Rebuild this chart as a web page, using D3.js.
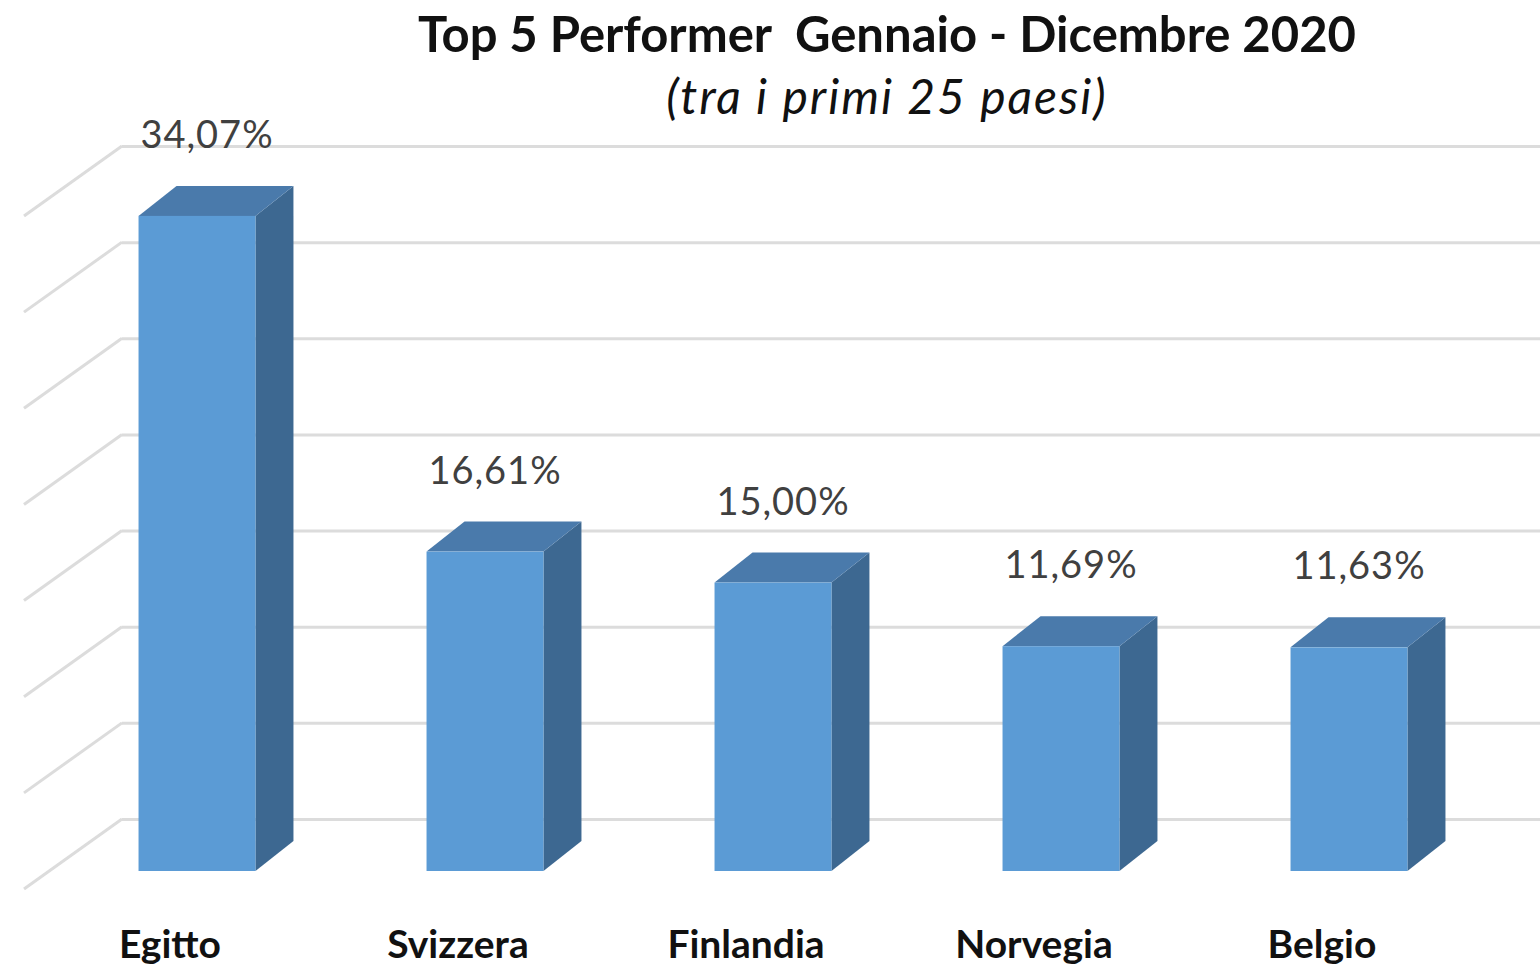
<!DOCTYPE html>
<html>
<head>
<meta charset="utf-8">
<script src="https://cdn.jsdelivr.net/npm/d3@7"></script>
<style>
  body { margin: 0; background: #fff; }
  text { font-family: Lato, "Open Sans", sans-serif; white-space: pre; }
</style>
</head>
<body>
<div id="chart"></div>
<script>
const categories = ["Egitto", "Svizzera", "Finlandia", "Norvegia", "Belgio"]
const values = [34.07, 16.61, 15.00, 11.69, 11.63]
const gridTicks = [0, 5, 10, 15, 20, 25, 30, 35]
const title = "Top 5 Performer  Gennaio - Dicembre 2020"
const subtitle = "(tra i primi 25 paesi)"

const width = 1540
const height = 970

// 3D look: depth offset of the bar backs, and the side wall slant
const depth = { dx: 38, dy: -30 }
const wall = { x: 122, dx: -98, dy: 70, floorShift: 52 }

const colors = { front: "#5b9bd5", top: "#4a7aab", side: "#3d6891", grid: "#dcdcdc", label: "#404040" }

const it = d3.formatLocale({ decimal: ",", thousands: ".", grouping: [3], currency: ["", "€"] })
const fmt = v => it.format(".2f")(v) + "%"

const svg = d3.select("#chart").append("svg")
  .attr("width", width)
  .attr("height", height)

const x = d3.scaleBand()
  .domain(categories)
  .range([53, 1493])
  .paddingInner(0.594)
  .paddingOuter(0.297)

// front faces of the bars
const y = d3.scaleLinear().domain([0, 35]).range([871, 198])
// back wall
const yWall = v => y(v) - wall.floorShift

// back wall gridlines
const gridAxis = d3.axisLeft(d3.scaleLinear().domain([0, 35]).range([y(0) - wall.floorShift, y(35) - wall.floorShift]))
  .tickValues(gridTicks)
  .tickSize(-(width - wall.x))
  .tickFormat("")

const grid = svg.append("g")
  .attr("transform", "translate(" + wall.x + ",0)")
  .call(gridAxis)
grid.select(".domain").remove()
grid.selectAll("line").attr("stroke", colors.grid).attr("stroke-width", 3)

// side wall slants
svg.append("g").selectAll("line")
  .data(gridTicks)
  .join("line")
  .attr("x1", wall.x)
  .attr("y1", d => yWall(d))
  .attr("x2", wall.x + wall.dx)
  .attr("y2", d => yWall(d) + wall.dy)
  .attr("stroke", colors.grid)
  .attr("stroke-width", 3)

const bars = svg.append("g").selectAll("g")
  .data(categories.map((c, i) => ({ c, v: values[i] })))
  .join("g")

bars.each(function(d) {
  const g = d3.select(this)
  const x0 = x(d.c)
  const x1 = x0 + x.bandwidth()
  const yt = y(d.v)
  const yb = y(0)
  const { dx, dy } = depth

  g.append("polygon")
    .attr("points", [[x1, yt], [x1 + dx, yt + dy], [x1 + dx, yb + dy], [x1, yb]].join(" "))
    .attr("fill", colors.side)
  g.append("polygon")
    .attr("points", [[x0, yt], [x0 + dx, yt + dy], [x1 + dx, yt + dy], [x1, yt]].join(" "))
    .attr("fill", colors.top)
  g.append("rect")
    .attr("x", x0)
    .attr("y", yt)
    .attr("width", x.bandwidth())
    .attr("height", yb - yt)
    .attr("fill", colors.front)
})

// value labels
svg.append("g").selectAll("text")
  .data(categories.map((c, i) => ({ c, v: values[i] })))
  .join("text")
  .attr("x", d => x(d.c) + x.bandwidth() / 2 + 10)
  .attr("y", d => y(d.v) - 68)
  .attr("text-anchor", "middle")
  .attr("font-size", 38)
  .attr("letter-spacing", 1)
  .attr("fill", colors.label)
  .text(d => fmt(d.v))

// category labels
svg.append("g").selectAll("text")
  .data(categories)
  .join("text")
  .attr("x", d => x(d) + x.bandwidth() / 2 - 27)
  .attr("y", 958)
  .attr("text-anchor", "middle")
  .attr("font-size", 39)
  .attr("font-weight", "bold")
  .attr("fill", "#111")
  .text(d => d)

// titles
svg.append("text")
  .attr("x", 887)
  .attr("y", 52)
  .attr("text-anchor", "middle")
  .attr("font-size", 49)
  .attr("font-weight", "bold")
  .attr("fill", "#111")
  .text(title)

svg.append("text")
  .attr("x", 887)
  .attr("y", 114)
  .attr("text-anchor", "middle")
  .attr("font-size", 48)
  .attr("letter-spacing", 2)
  .attr("font-style", "italic")
  .attr("fill", "#111")
  .text(subtitle)
</script>
</body>
</html>
